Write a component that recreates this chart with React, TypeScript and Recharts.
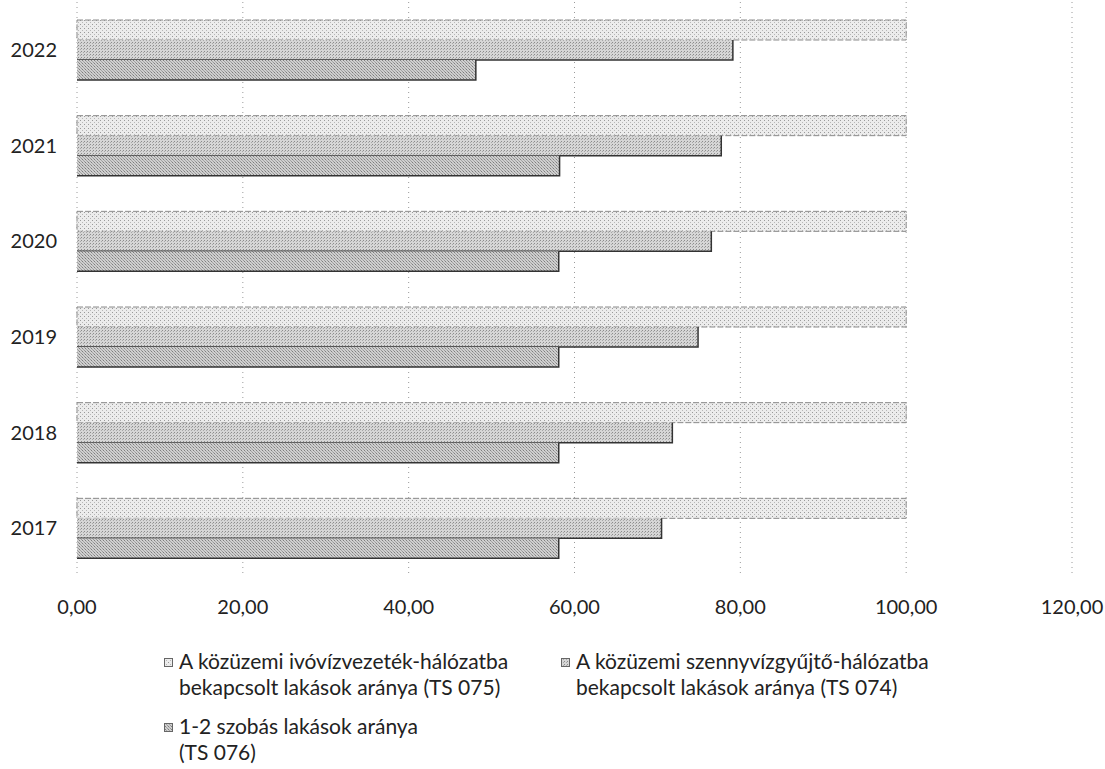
import React from 'react';
import { BarChart, Bar, XAxis, YAxis, CartesianGrid, Legend } from 'recharts';

const years = ['2017', '2018', '2019', '2020', '2021', '2022'];
const ivovizValues = [100, 100, 100, 100, 100, 100];
const szennyvizValues = [70.5, 71.8, 74.9, 76.5, 77.7, 79.1];
const szobasValues = [58.1, 58.1, 58.1, 58.1, 58.2, 48.1];
const xTicks = [0, 20, 40, 60, 80, 100, 120];
const seriesNames = [
  'A közüzemi ivóvízvezeték-hálózatba\nbekapcsolt lakások aránya (TS 075)',
  'A közüzemi szennyvízgyűjtő-hálózatba\nbekapcsolt lakások aránya (TS 074)',
  '1-2 szobás lakások aránya\n(TS 076)',
];

const data = years.map((year, i) => ({
  year,
  ivoviz: ivovizValues[i],
  szennyviz: szennyvizValues[i],
  szobas: szobasValues[i],
}));

const FONT = 'Lato, "Open Sans", sans-serif';

const fmt = (v: number) => v.toFixed(2).replace('.', ',');

const topShape = (props: any) => {
  const { x, y, width, height, fill } = props;
  if (!width || width <= 0) return <g />;
  return (
    <g>
      <rect x={x} y={y} width={width} height={height} fill={fill} />
      <rect x={x} y={y} width={width} height={height} fill="none" stroke="#8a8a8a" strokeWidth={1} strokeDasharray="6 2" />
    </g>
  );
};

const edgeShape = (props: any) => {
  const { x, y, width, height, fill } = props;
  if (!width || width <= 0) return <g />;
  return (
    <g>
      <rect x={x} y={y} width={width} height={height} fill={fill} />
      <path d={`M${x},${y + height} H${x + width} V${y}`} fill="none" stroke="#333" strokeWidth={1.5} />
    </g>
  );
};

const renderLegend = (props: any) => {
  const payload = [...(props.payload || [])].sort(
    (a: any, b: any) => seriesNames.indexOf(a.value) - seriesNames.indexOf(b.value)
  );
  return (
    <div style={{ position: 'relative', width: 1105, height: 129, overflow: 'hidden', fontFamily: FONT, fontSize: 21, color: '#222' }}>
      {payload.map((entry: any, i: number) => (
        <div
          key={i}
          style={{
            position: 'absolute',
            left: 164 + (i % 2) * 397,
            top: 8 + Math.floor(i / 2) * 65,
            display: 'flex',
            alignItems: 'flex-start',
          }}
        >
          <svg width={9} height={9} style={{ marginTop: 10, marginRight: 6, flex: 'none' }}>
            <rect x={0.5} y={0.5} width={8} height={8} fill={entry.color} stroke="#666" strokeWidth={1} />
          </svg>
          <div style={{ whiteSpace: 'pre-line', lineHeight: '26px' }}>{entry.value}</div>
        </div>
      ))}
    </div>
  );
};

export default function App() {
  return (
    <div style={{ position: 'absolute', left: 0, top: 0, width: 1105, height: 769, overflow: 'hidden', background: '#fff' }}>
      <BarChart
        width={1105}
        height={769}
        data={data}
        layout="vertical"
        margin={{ top: 2, right: 33, bottom: 24, left: 17 }}
        barCategoryGap={18}
        barGap={0}
      >
        <defs>
          <pattern id="pIvo" width="4" height="4" patternUnits="userSpaceOnUse">
            <rect width="4" height="4" fill="#ececec" />
            <rect x="0" y="0" width="1" height="1" fill="#9a9a9a" />
            <rect x="2" y="2" width="1" height="1" fill="#b8b8b8" />
          </pattern>
          <pattern id="pSzenny" width="3" height="3" patternUnits="userSpaceOnUse">
            <rect width="3" height="3" fill="#d6d6d6" />
            <rect x="0" y="0" width="1" height="1" fill="#8c8c8c" />
            <rect x="2" y="1" width="1" height="1" fill="#a8a8a8" />
          </pattern>
          <pattern id="pSzoba" width="3" height="3" patternUnits="userSpaceOnUse">
            <rect width="3" height="3" fill="#cfcfcf" />
            <rect x="1" y="0" width="1" height="1" fill="#7e7e7e" />
            <rect x="0" y="2" width="1" height="1" fill="#999" />
            <rect x="2" y="1" width="1" height="1" fill="#a5a5a5" />
          </pattern>
        </defs>
        <CartesianGrid horizontal={false} vertical stroke="#9a9a9a" strokeDasharray="1 4" />
        <XAxis
          type="number"
          domain={[0, 120]}
          ticks={xTicks}
          tickFormatter={fmt}
          axisLine={false}
          tickLine={false}
          tickMargin={18}
          height={40}
          tick={{ fontFamily: FONT, fontSize: 20, fill: '#222' }}
        />
        <YAxis
          type="category"
          dataKey="year"
          reversed
          width={60}
          axisLine={false}
          tickLine={false}
          tickMargin={14}
          tick={{ fontFamily: FONT, fontSize: 20, fill: '#222' }}
        />
        <Bar dataKey="ivoviz" name={seriesNames[0]} fill="url(#pIvo)" shape={topShape} isAnimationActive={false} />
        <Bar dataKey="szennyviz" name={seriesNames[1]} fill="url(#pSzenny)" shape={edgeShape} isAnimationActive={false} />
        <Bar dataKey="szobas" name={seriesNames[2]} fill="url(#pSzoba)" shape={edgeShape} isAnimationActive={false} />
        <Legend content={renderLegend} verticalAlign="bottom" wrapperStyle={{ left: 0, top: 640, width: 1105 }} />
      </BarChart>
    </div>
  );
}
